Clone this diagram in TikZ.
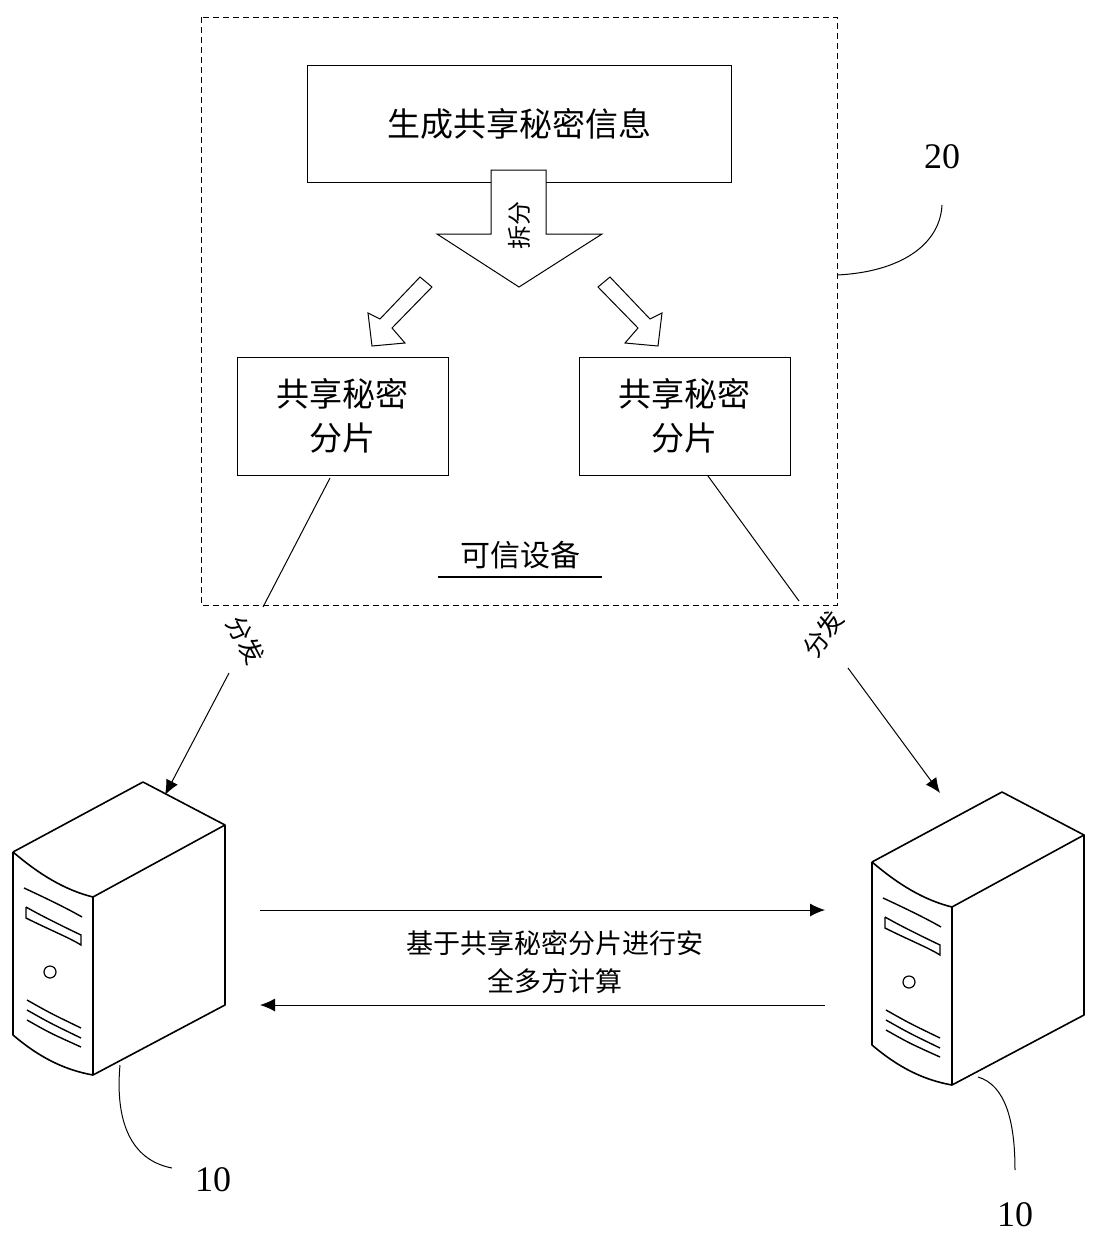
\documentclass[tikz,border=0pt]{standalone}
\usetikzlibrary{arrows.meta}
\usepackage{fontspec}
\setmainfont{Liberation Serif}
\newfontfamily\cjk{Noto Sans CJK SC}
\begin{document}
\begin{tikzpicture}[x=1pt,y=-1pt,
  box/.style={draw,thick,inner sep=0pt},
  lbl/.style={font=\cjk\fontsize{33}{44}\selectfont,align=center},
  ln/.style={line width=1pt},
  tip/.style={-{Latex[length=15,width=13]}},
  srv/.style={line width=1.6pt,line join=round}]
\useasboundingbox (0,0) rectangle (1099,1243);
\draw[dash pattern=on 6pt off 4pt,thin] (201,17) rectangle (837,605);
\node[box,minimum width=424,minimum height=117,lbl] (top) at (519,123.5) {生成共享秘密信息};
% big arrow
\draw[ln,fill=white] (491,170)--(546,170)--(546,234)--(602,234)--(519,287)--(437,234)--(491,234)--cycle;
\node[font=\cjk\fontsize{24}{26}\selectfont,rotate=90] (cf) at (519,225) {拆分};
% small arrows
\draw[ln] (420,277)--(432,287)--(392,328)--(405,343)--(372,346)--(368,313)--(380,319)--cycle;
\draw[ln,xshift=-8pt] (618,277)--(606,287)--(646,328)--(633,343)--(666,346)--(670,313)--(658,319)--cycle;
\node[box,minimum width=211,minimum height=118,lbl] (s1) at (342.5,416) {共享秘密\\分片};
\node[box,minimum width=211,minimum height=118,lbl] (s2) at (684.5,416) {共享秘密\\分片};
\node[lbl,font=\cjk\fontsize{30}{32}\selectfont] (td) at (520,555) {可信设备};
\draw[line width=1.2pt] (438,577)--(602,577);
% servers
\foreach \n/\dx/\dy in {a/0/0,b/859/10}{
\begin{scope}[shift={(\dx,\dy)}]
\coordinate (\n) at (143,782);
\draw[srv] (13,852)--(143,782)--(225,825)--(93,897) (225,825)--(225,1005)--(93,1075)--(93,897);
\draw[srv] (13,852) .. controls (40,875) and (65,890) .. (93,897);
\draw[srv] (13,852)--(13,1035) .. controls (40,1058) and (65,1070) .. (93,1075);
\draw[line width=1.4pt] (24,888) .. controls (50,900) and (70,910) .. (82,917) (26,907)--(26,918) .. controls (50,930) and (70,938) .. (81,945)--(81,935) .. controls (60,925) and (40,915) .. (26,907);
\draw[line width=1.2pt] (50,972) circle (6);
\draw[line width=1.4pt] (27,1000)..controls(50,1013)..(81,1028) (27,1010)..controls(50,1023)..(81,1038) (27,1020)..controls(50,1033)..(81,1047);
\end{scope}}
% distribute lines
\draw[ln] (330,478)--(263,607);
\draw[ln,tip] (229,673)--(165,795);
\node[font=\cjk\fontsize{25}{27}\selectfont,rotate=-62] (d1) at (246,640) {分发};
\draw[ln] (708,476)--(799,601);
\draw[ln,tip] (848,668)--(940,793);
\node[font=\cjk\fontsize{25}{27}\selectfont,rotate=54] (d2) at (823,634) {分发};
% horizontal
\coordinate (h1) at (260,910); \coordinate (h2) at (825,910);
\coordinate (h3) at (825,1005); \coordinate (h4) at (260,1005);
\draw[ln,tip] (h1)--(h2);
\draw[ln,tip] (h3)--(h4);
\node[font=\cjk\fontsize{27}{38}\selectfont,align=center] (ht) at (555,962) {基于共享秘密分片进行安\\全多方计算};
% refs
\node[font=\fontsize{36}{38}\selectfont] (n20) at (942,157) {20};
\draw[ln] (837,275) .. controls (900,272) and (940,245) .. (942,205);
\node[font=\fontsize{36}{38}\selectfont] (n10a) at (213,1180) {10};
\draw[ln] (120,1065) .. controls (115,1120) and (130,1160) .. (172,1168);
\node[font=\fontsize{36}{38}\selectfont] (n10b) at (1015,1215) {10};
\draw[ln] (978,1077) .. controls (1005,1085) and (1015,1120) .. (1015,1170);
\end{tikzpicture}
\end{document}
